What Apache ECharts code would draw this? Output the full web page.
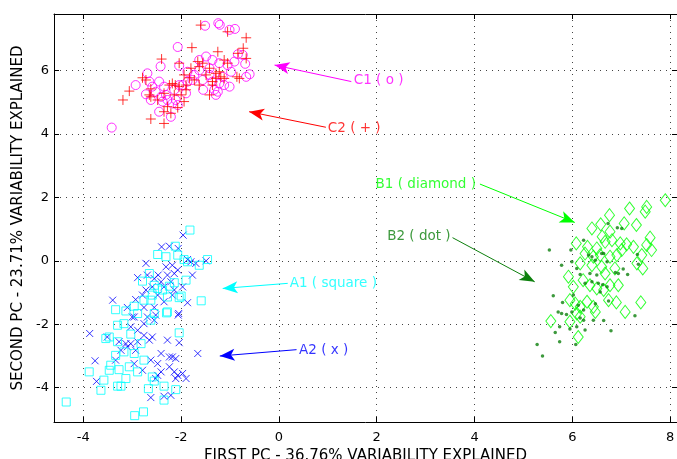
<!DOCTYPE html>
<html>
<head>
<meta charset="utf-8">
<script src="https://cdn.jsdelivr.net/npm/echarts@6/dist/echarts.min.js"></script>
<style>
  html, body { margin: 0; padding: 0; background: #fff; }
  #pca { width: 677px; height: 459px; }
</style>
</head>
<body>
<div id="pca"></div>
<script>
// C1 ( o )
const c1Points = [
  [-1.51, 7.41], [-1.24, 7.49], [-1.21, 7.44], [-1.01, 7.28], [-0.90, 7.31], [-2.07, 6.74],
  [-2.42, 6.13], [-2.69, 5.91], [-2.93, 5.54], [-2.45, 5.65], [-2.72, 5.25], [-2.62, 5.07],
  [-2.41, 5.17], [-2.38, 5.02], [-2.45, 4.70], [-2.21, 4.54], [-3.42, 4.20], [-2.07, 4.91],
  [-2.04, 6.15], [-1.87, 5.96], [-1.63, 6.33], [-1.49, 6.44], [-1.36, 6.33], [-1.22, 6.23],
  [-1.05, 6.17], [-0.84, 6.51], [-0.74, 6.49], [-0.69, 6.21], [-0.60, 5.88], [-0.67, 5.80],
  [-1.01, 5.49], [-1.29, 5.23], [-1.25, 5.33], [-1.55, 5.39], [-1.90, 5.28], [-2.11, 5.07],
  [-1.97, 5.54], [-1.63, 6.01], [-1.42, 5.86], [-1.15, 5.80], [-1.22, 5.59], [-1.36, 5.65],
  [-1.77, 5.70], [-2.14, 5.39], [-2.52, 5.33], [-2.59, 5.49], [-2.65, 5.65], [-2.35, 5.49],
  [-2.31, 5.23], [-2.28, 5.07], [-2.18, 4.96], [-2.04, 5.54], [-1.87, 5.65], [-1.73, 5.86],
  [-1.56, 5.70], [-1.42, 6.07], [-0.98, 5.96], [-0.91, 6.28], [-1.12, 5.54], [-1.32, 5.39]
];
// C2 ( + )
const c2Points = [
  [-1.60, 7.43], [-1.05, 7.22], [-0.67, 7.03], [-1.78, 6.72], [-2.40, 6.36], [-1.25, 6.59],
  [-0.73, 6.70], [-0.84, 6.54], [-0.67, 6.38], [-2.04, 6.23], [-1.66, 6.28], [-1.63, 6.12],
  [-1.42, 6.07], [-1.29, 5.91], [-1.12, 6.33], [-1.05, 6.23], [-1.19, 5.80], [-0.86, 5.80],
  [-0.81, 5.75], [-2.79, 5.77], [-2.72, 5.70], [-3.06, 5.35], [-3.19, 5.07], [-2.62, 5.42],
  [-2.65, 5.23], [-2.62, 5.17], [-2.24, 5.54], [-2.18, 5.59], [-2.12, 5.54], [-2.04, 5.49],
  [-1.90, 5.54], [-1.73, 5.70], [-1.49, 5.86], [-1.36, 5.65], [-1.29, 5.75], [-1.22, 5.96],
  [-1.12, 5.75], [-1.63, 5.54], [-1.90, 5.39], [-2.00, 5.23], [-2.14, 5.23], [-1.94, 5.02],
  [-2.28, 4.86], [-2.35, 4.70], [-2.62, 4.47], [-2.35, 4.33], [-1.36, 5.54], [-1.56, 6.23],
  [-1.80, 6.07], [-1.94, 5.86], [-2.35, 5.28], [-2.48, 5.07], [-2.07, 4.83], [-2.21, 4.65],
  [-1.83, 5.77], [-1.42, 5.23]
];
// A1 ( square )
const a1Points = [
  [-1.82, 0.97], [-2.12, 0.46], [-2.48, 0.20], [-2.31, 0.13], [-2.07, 0.18], [-1.94, 0.04],
  [-1.87, -0.03], [-1.63, -0.14], [-1.46, 0.04], [-1.90, -0.61], [-1.59, -1.26], [-2.79, -0.64],
  [-2.00, -1.11], [-3.34, -1.54], [-3.13, -1.58], [-2.96, -1.43], [-2.59, -1.08], [-2.28, -1.14],
  [-2.04, -1.16], [-2.28, -1.61], [-2.62, -1.24], [-2.24, -0.80], [-2.14, -0.69], [-2.38, -0.92],
  [-2.55, -0.77], [-2.76, -1.24], [-2.89, -1.66], [-2.55, -1.66], [-2.48, -0.87], [-2.65, -0.40],
  [-2.30, -1.64], [-2.04, -2.27], [-3.47, -2.40], [-3.54, -2.45], [-3.30, -2.55], [-3.03, -2.31],
  [-2.82, -2.61], [-3.17, -2.87], [-2.96, -2.92], [-3.34, -2.98], [-3.44, -3.29], [-3.47, -3.45],
  [-3.27, -3.43], [-3.06, -3.34], [-3.88, -3.50], [-3.58, -3.76], [-3.13, -3.71], [-3.30, -3.95],
  [-3.23, -3.95], [-3.64, -4.08], [-2.67, -4.03], [-2.55, -3.79], [-2.35, -3.95], [-2.11, -4.06],
  [-2.59, -3.66], [-2.35, -4.39], [-4.35, -4.45], [-2.95, -4.88], [-2.77, -4.76], [-3.17, -1.98],
  [-3.30, -2.03], [-2.62, -1.87], [-2.76, -3.13], [-2.89, -3.50]
];
// A2 ( x )
const a2Points = [
  [-1.96, 0.81], [-2.40, 0.44], [-2.24, 0.46], [-2.06, 0.39], [-2.72, -0.08], [-1.87, 0.04],
  [-1.80, -0.03], [-1.70, -0.08], [-1.49, 0.00], [-2.31, -0.19], [-2.18, -0.14], [-2.07, -0.29],
  [-2.14, -0.40], [-2.28, -0.45], [-2.47, -0.45], [-2.55, -0.56], [-2.69, -0.45], [-2.89, -0.53],
  [-1.77, -0.45], [-2.21, -0.66], [-2.41, -0.66], [-2.59, -0.82], [-2.72, -0.92], [-2.14, -0.92],
  [-2.35, -0.82], [-3.40, -1.24], [-2.93, -1.22], [-2.79, -1.08], [-2.48, -1.08], [-2.35, -1.29],
  [-1.87, -1.32], [-3.10, -1.47], [-2.76, -1.47], [-2.55, -1.47], [-2.06, -1.71], [-3.00, -1.77],
  [-2.69, -1.77], [-2.52, -1.71], [-2.18, -1.08], [-1.97, -0.82],
  [-2.05, -1.66], [-3.87, -2.29], [-3.51, -2.40], [-3.27, -2.55], [-3.13, -2.61], [-3.03, -2.61],
  [-2.89, -2.55], [-2.65, -2.50], [-2.59, -2.40], [-2.28, -2.50], [-2.04, -2.58], [-1.66, -2.92],
  [-2.41, -2.92], [-2.24, -3.03], [-2.18, -3.03], [-2.11, -3.08], [-3.76, -3.15], [-3.34, -3.13],
  [-2.96, -3.24], [-2.79, -3.45], [-2.62, -3.13], [-2.48, -3.24], [-2.41, -3.50], [-2.24, -3.34],
  [-2.48, -3.61], [-2.14, -3.50], [-2.07, -3.61], [-1.97, -3.55], [-2.11, -3.71], [-1.90, -3.71],
  [-3.73, -3.80], [-2.52, -3.71], [-2.62, -4.31], [-2.35, -4.27], [-2.21, -4.24], [-3.10, -2.71],
  [-2.93, -2.82], [-3.23, -2.82], [-2.89, -2.19], [-2.76, -2.35], [-3.03, -2.08], [-2.76, -1.98],
  [-2.55, -1.87], [-2.96, -1.77]
];
// B1 ( diamond )
const b1Points = [
  [7.90, 1.91], [7.17, 1.65], [7.52, 1.70], [7.49, 1.55], [6.76, 1.44], [6.58, 1.15],
  [6.40, 1.02], [7.06, 1.18], [7.31, 1.13], [6.77, 0.92], [6.08, 0.55], [6.61, 0.76],
  [6.31, 0.44], [6.50, 0.39], [6.67, 0.60], [6.81, 0.65], [6.98, 0.55], [7.11, 0.52],
  [7.25, 0.44], [7.59, 0.73], [7.52, 0.50], [7.62, 0.34], [7.42, 0.18], [7.01, 0.34],
  [6.91, 0.18], [6.77, 0.13], [6.57, 0.18], [6.43, 0.13], [6.26, 0.23], [6.16, -0.08],
  [7.32, -0.08], [7.44, -0.24], [5.92, -0.50], [6.02, -0.82], [6.22, -0.61], [6.36, -0.77],
  [6.50, -0.87], [6.64, -0.92], [6.77, -0.77], [6.94, -0.77], [6.67, -0.40], [6.87, -0.24],
  [6.60, -0.19], [6.40, -0.14], [5.95, -1.24], [6.06, -1.35], [6.16, -1.45], [6.30, -1.29],
  [6.43, -1.45], [6.09, -1.66], [6.16, -1.76], [5.95, -1.92], [5.56, -1.90], [6.12, -2.40],
  [6.90, -1.31], [7.08, -1.61], [7.40, -1.31], [6.74, -1.24], [6.47, -1.61]
];
// B2 ( dot )
const b2Points = [
  [6.73, 1.18], [7.01, 1.02], [6.92, 1.04], [6.23, 0.65], [5.53, 0.34], [5.97, 0.34],
  [6.60, 0.23], [6.64, 0.23], [6.33, 0.18], [6.40, 0.13], [6.47, 0.02], [6.71, -0.03],
  [5.78, -0.14], [5.99, -0.03], [6.09, -0.24], [6.16, -0.43], [6.36, -0.40], [6.50, -0.45],
  [6.88, -0.37], [6.94, -0.40], [7.04, -0.26], [7.13, -0.43], [7.35, -0.11], [7.33, 0.20],
  [6.26, -0.71], [6.40, -0.66], [6.53, -0.71], [6.62, -0.75], [6.57, -0.98], [6.71, -0.82],
  [5.61, -1.10], [5.80, -1.31], [6.02, -1.08], [6.12, -1.40], [6.23, -1.55], [6.47, -1.35],
  [6.74, -1.27], [5.71, -1.61], [5.78, -1.66], [5.88, -1.69], [5.99, -1.61], [6.16, -1.80],
  [6.23, -1.87], [6.43, -1.87], [6.64, -1.88], [7.28, -1.73], [5.65, -2.26], [5.74, -2.08],
  [5.95, -2.15], [6.09, -2.08], [6.26, -2.18], [6.79, -2.20], [5.74, -2.55], [6.07, -2.64],
  [5.28, -2.64], [5.39, -3.00]
];

// annotations: label text, where the text sits, arrow start and arrow tip (data units)
const noteText = ['C1 ( o )', 'C2 ( + )', 'A1 ( square )', 'A2 ( x )', 'B1 ( diamond )', 'B2 ( dot )'];
const noteAt = [[1.51, 5.67], [0.98, 4.18], [0.20, -0.71], [0.39, -2.82], [4.05, 2.42], [3.53, 0.76]];
const noteFrom = [[1.48, 5.65], [0.96, 4.21], [0.18, -0.71], [0.36, -2.80], [4.11, 2.42], [3.55, 0.73]];
const noteTo = [[-0.09, 6.17], [-0.61, 4.70], [-1.15, -0.87], [-1.21, -3.00], [6.05, 1.21], [5.23, -0.66]];
const noteSide = ['right', 'right', 'right', 'right', 'left', 'left'];

const xMin = -4.6, xMax = 8.14;
const yMin = -5.08, yMax = 7.78;

const cMagenta = '#ff00ff', cRed = '#ff0000', cCyan = '#00ffff', cBlue = '#0000ff';
const cLime = '#00ff00', cDark = '#0d800d';
const noteColors = [cMagenta, cRed, cCyan, cBlue, cLime, cDark];

const txt = 'DejaVu Sans';

const arrowFor = (i) => ({
  silent: true,
  symbol: ['none', 'arrow'],
  symbolSize: [9, 15],
  lineStyle: { color: noteColors[i], width: 1, type: 'solid' },
  label: { show: false },
  emphasis: { disabled: true },
  data: [[{ coord: noteFrom[i] }, { coord: noteTo[i] }]]
})

const hollow = (color) => ({ color: 'rgba(0,0,0,0)', borderColor: color, borderWidth: 1 })

let chart = echarts.init(document.getElementById('pca'));
chart.setOption({
  animation: false,
  backgroundColor: '#fff',
  grid: { left: 54, right: 0, top: 14, bottom: 37, containLabel: false, outerBoundsMode: 'none' },
  xAxis: [
    {
      type: 'value', min: xMin, max: xMax, splitNumber: 6,
      name: 'FIRST PC - 36.76% VARIABILITY EXPLAINED',
      nameLocation: 'middle', nameGap: 22,
      nameTextStyle: { fontFamily: txt, fontSize: 15, color: '#000' },
      axisLine: { onZero: false, lineStyle: { color: '#000', width: 1 } },
      axisTick: { inside: true, length: 5, lineStyle: { color: '#000' } },
      axisLabel: { showMinLabel: false, showMaxLabel: false, margin: 9, fontFamily: txt, fontSize: 13, color: '#000' },
      splitLine: { show: true, lineStyle: { color: '#444', type: [1, 5], width: 1 } }
    },
    {
      type: 'value', min: xMin, max: xMax, splitNumber: 6, position: 'top',
      axisLine: { onZero: false, lineStyle: { color: '#000', width: 1 } },
      axisTick: { inside: true, length: 5, lineStyle: { color: '#000' } },
      axisLabel: { show: false },
      splitLine: { show: false }
    }
  ],
  yAxis: [
    {
      type: 'value', min: yMin, max: yMax, splitNumber: 6,
      name: 'SECOND PC - 23.71% VARIABILITY EXPLAINED',
      nameLocation: 'middle', nameGap: 27, nameRotate: 90,
      nameTextStyle: { fontFamily: txt, fontSize: 15, color: '#000' },
      axisLine: { onZero: false, lineStyle: { color: '#000', width: 1 } },
      axisTick: { inside: true, length: 5, lineStyle: { color: '#000' } },
      axisLabel: { showMinLabel: false, showMaxLabel: false, margin: 5, fontFamily: txt, fontSize: 13, color: '#000' },
      splitLine: { show: true, lineStyle: { color: '#444', type: [1, 5], width: 1 } }
    },
    {
      type: 'value', min: yMin, max: yMax, splitNumber: 6, position: 'right',
      axisLine: { onZero: false, lineStyle: { color: '#000', width: 1 } },
      axisTick: { inside: true, length: 5, lineStyle: { color: '#000' } },
      axisLabel: { show: false },
      splitLine: { show: false }
    }
  ],
  series: [
    {
      name: 'C1', type: 'scatter', data: c1Points,
      symbol: 'circle', symbolSize: 9, itemStyle: hollow(cMagenta),
      markLine: arrowFor(0)
    },
    {
      name: 'C2', type: 'scatter', data: c2Points,
      symbol: 'path://M5,0L5,10M0,5L10,5', symbolSize: 10, itemStyle: hollow(cRed),
      markLine: arrowFor(1)
    },
    {
      name: 'A2', type: 'scatter', data: a2Points,
      symbol: 'path://M0,0L10,10M10,0L0,10', symbolSize: 7, itemStyle: hollow(cBlue),
      markLine: arrowFor(3)
    },
    {
      name: 'A1', type: 'scatter', data: a1Points,
      symbol: 'rect', symbolSize: 8, itemStyle: hollow(cCyan),
      markLine: arrowFor(2)
    },
    {
      name: 'B1', type: 'scatter', data: b1Points,
      symbol: 'diamond', symbolSize: [10, 13], itemStyle: hollow(cLime),
      markLine: arrowFor(4)
    },
    {
      name: 'B2', type: 'scatter', data: b2Points,
      symbol: 'circle', symbolSize: 3.5, itemStyle: { color: cDark },
      markLine: arrowFor(5)
    },
    {
      // text of the annotations
      name: 'notes', type: 'scatter', symbolSize: 0, silent: true,
      data: noteText.map((t, i) => ({
        value: noteAt[i],
        label: {
          show: true, formatter: t, position: noteSide[i], distance: 1,
          color: noteColors[i], fontFamily: txt, fontSize: 13.5
        }
      }))
    }
  ]
});
</script>
</body>
</html>
